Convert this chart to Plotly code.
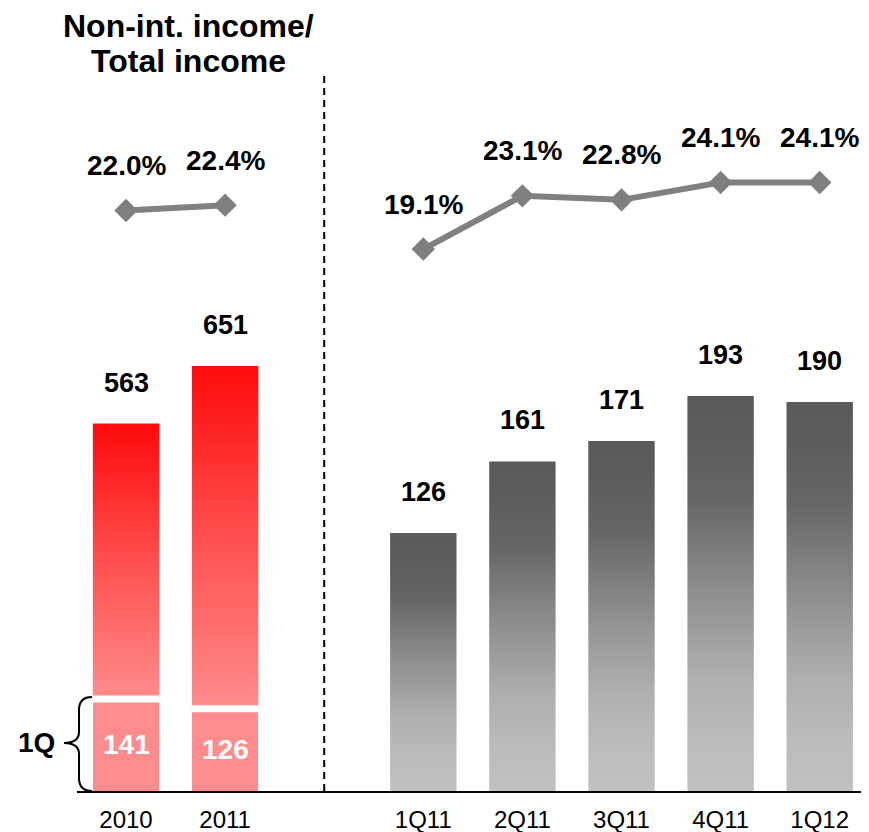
import plotly.graph_objects as go

# ---------------- data ----------------
annual_labels = ["2010", "2011"]
annual_total = [563, 651]
annual_q1 = [141, 126]
annual_ratio = [22.0, 22.4]

quarter_labels = ["1Q11", "2Q11", "3Q11", "4Q11", "1Q12"]
quarter_values = [126, 161, 171, 193, 190]
quarter_ratio = [19.1, 23.1, 22.8, 24.1, 24.1]

annual_pos = [0, 1]
quarter_pos = [3, 4, 5, 6, 7]
divider_pos = 2

# ---------------- style ----------------
OFF = 8  # browser default body margin
W, H = 869 - OFF, 832 - OFF
ML, MR, MT, MB = 77 - OFF, 0, 11 - OFF, 41
PW, PH = W - ML - MR, H - MT - MB
BAR_W = 0.67
FONT = "Liberation Sans, Arial, sans-serif"

red_scale = [[0, "#ff8c8c"], [0.5, "#ff4f4f"], [1, "#ff0a0a"]]
grey_scale = [[0, "#c0c0c0"], [0.12, "#bcbcbc"], [0.28, "#b0b0b0"], [0.43, "#9a9a9a"],
              [0.59, "#808080"], [0.74, "#666666"], [0.9, "#5c5c5c"], [1, "#5a5a5a"]]


def px_to_paper(px, py):
    # px, py are screen pixels of the target picture
    fx, fy = px - OFF, py - OFF
    return (fx - ML) / PW, (H - MB - fy) / PH


def rect(xc, y0, y1):
    xs = [xc - BAR_W / 2, xc + BAR_W / 2, xc + BAR_W / 2, xc - BAR_W / 2, xc - BAR_W / 2]
    ys = [y0, y0, y1, y1, y0]
    return xs, ys


fig = go.Figure()

# lower (1Q) segments of annual bars
fig.add_trace(go.Bar(x=annual_pos, y=annual_q1, width=BAR_W, marker=dict(color="#ff8c8c", line=dict(width=0)),
                     yaxis="y", showlegend=False, hoverinfo="skip"))

# upper gradient segments of annual bars
for p, q1, tot in zip(annual_pos, annual_q1, annual_total):
    xs, ys = rect(p, q1, tot)
    fig.add_trace(go.Scatter(x=xs, y=ys, mode="lines", fill="toself", line=dict(width=0),
                             fillgradient=dict(type="vertical", colorscale=red_scale),
                             yaxis="y", showlegend=False, hoverinfo="skip"))

# quarterly gradient bars
for p, v in zip(quarter_pos, quarter_values):
    xs, ys = rect(p, 0, v)
    fig.add_trace(go.Scatter(x=xs, y=ys, mode="lines", fill="toself", line=dict(width=0),
                             fillgradient=dict(type="vertical", colorscale=grey_scale),
                             yaxis="y2", showlegend=False, hoverinfo="skip"))

# ratio lines
for xs, ys in [(annual_pos, annual_ratio), (quarter_pos, quarter_ratio)]:
    fig.add_trace(go.Scatter(x=xs, y=ys, mode="lines+markers", yaxis="y3",
                             line=dict(color="#808080", width=6),
                             marker=dict(symbol="diamond", size=18, color="#7f7f7f"),
                             showlegend=False, hoverinfo="skip"))

annotations = []
shapes = []

# annual labels
for p, q1, tot in zip(annual_pos, annual_q1, annual_total):
    annotations.append(dict(x=p, y=tot, xref="x", yref="y", text=f"<b>{tot}</b>", showarrow=False,
                            yanchor="middle", yshift=41, font=dict(family=FONT, size=27, color="black")))
    annotations.append(dict(x=p, y=q1 / 2, xref="x", yref="y", text=f"<b>{q1}</b>", showarrow=False,
                            yanchor="middle", font=dict(family=FONT, size=28, color="white")))
    shapes.append(dict(type="line", xref="x", yref="y", x0=p - BAR_W / 2, x1=p + BAR_W / 2, y0=q1, y1=q1,
                       line=dict(color="white", width=7)))

for p, v in zip(quarter_pos, quarter_values):
    annotations.append(dict(x=p, y=v, xref="x", yref="y2", text=f"<b>{v}</b>", showarrow=False,
                            yanchor="middle", yshift=41, font=dict(family=FONT, size=27, color="black")))

for xs, ys in [(annual_pos, annual_ratio), (quarter_pos, quarter_ratio)]:
    for p, r in zip(xs, ys):
        annotations.append(dict(x=p, y=r, xref="x", yref="y3", text=f"<b>{r:.1f}%</b>", showarrow=False,
                                yanchor="middle", yshift=45, font=dict(family=FONT, size=28, color="black")))

# title
tx, ty1 = px_to_paper(188, 26)
_, ty2 = px_to_paper(188, 61)
annotations.append(dict(x=tx, y=ty1, xref="paper", yref="paper", text="<b>Non-int. income/</b>",
                        showarrow=False, xanchor="center", yanchor="middle",
                        font=dict(family=FONT, size=32, color="black")))
annotations.append(dict(x=tx, y=ty2, xref="paper", yref="paper", text="<b>Total income</b>",
                        showarrow=False, xanchor="center", yanchor="middle",
                        font=dict(family=FONT, size=32, color="black")))

# 1Q label
qx, qy = px_to_paper(36, 742)
annotations.append(dict(x=qx, y=qy, xref="paper", yref="paper", text="<b>1Q</b>", showarrow=False,
                        xanchor="center", yanchor="middle", font=dict(family=FONT, size=28, color="black")))

# brace
pts = [(92, 697), (79, 697), (79, 710), (79, 732), (79, 743), (64, 743), (79, 743), (79, 754),
       (79, 778), (79, 791), (92, 791)]
pp = [px_to_paper(*p) for p in pts]
f = lambda p: f"{p[0]:.5f},{p[1]:.5f}"
path = (f"M {f(pp[0])} Q {f(pp[1])} {f(pp[2])} L {f(pp[3])} Q {f(pp[4])} {f(pp[5])} "
        f"Q {f(pp[6])} {f(pp[7])} L {f(pp[8])} Q {f(pp[9])} {f(pp[10])}")
shapes.append(dict(type="path", xref="paper", yref="paper", path=path, line=dict(color="black", width=2)))

# dashed divider
_, dtop = px_to_paper(0, 72)
shapes.append(dict(type="line", xref="x", yref="paper", x0=divider_pos, x1=divider_pos, y0=0, y1=dtop,
                   line=dict(color="black", width=2, dash="7px,5px")))

x_left = -(126 - 77) / 99.1
x_right = x_left + PW / 99.1

fig.update_layout(
    width=W, height=H,
    margin=dict(l=ML, r=MR, t=MT, b=MB),
    paper_bgcolor="white", plot_bgcolor="white",
    showlegend=False,
    bargap=0,
    xaxis=dict(range=[x_left, x_right], tickvals=annual_pos + quarter_pos, ticktext=annual_labels + quarter_labels,
               showline=True, linecolor="black", linewidth=2, showgrid=False, zeroline=False, ticks="",
               ticklabelstandoff=6,
               tickfont=dict(family=FONT, size=24, color="black"), fixedrange=True),
    yaxis=dict(range=[0, 1195], visible=False, fixedrange=True),
    yaxis2=dict(range=[0, 381], visible=False, overlaying="y", fixedrange=True),
    yaxis3=dict(range=[-21.65, 37.0], visible=False, overlaying="y", fixedrange=True),
    annotations=annotations,
    shapes=shapes,
)

fig.write_html("out.html")
